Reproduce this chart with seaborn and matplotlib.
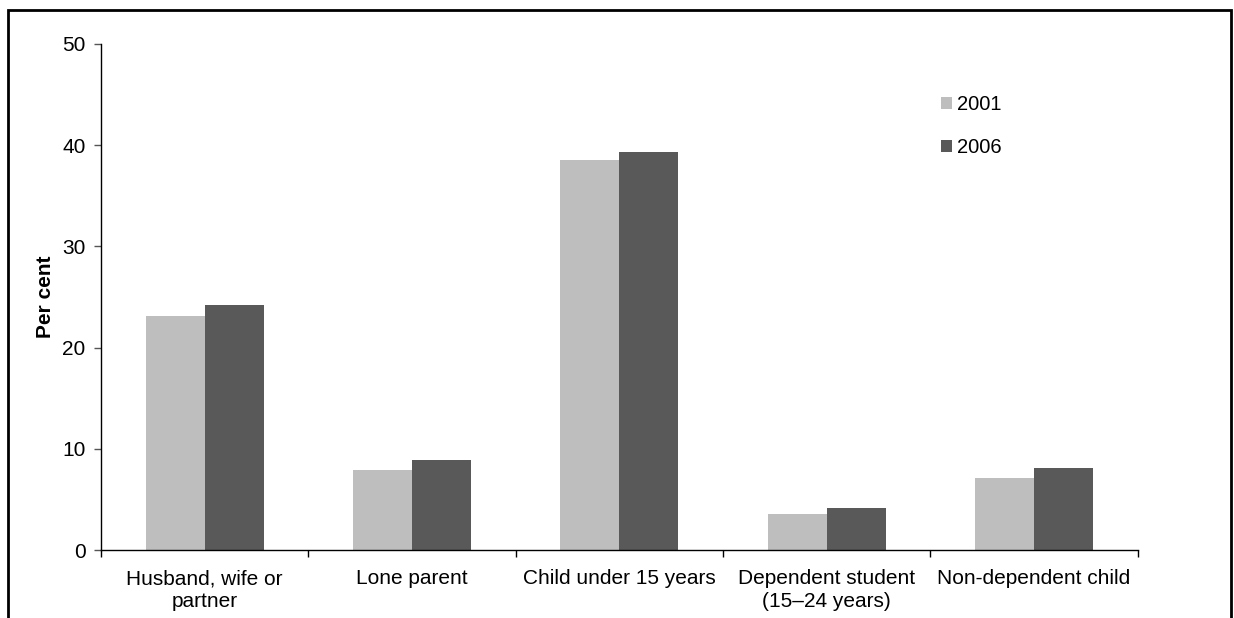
import pandas as pd
import matplotlib.pyplot as plt
import seaborn as sns
from matplotlib.patches import Rectangle

# data
categories = ['Husband, wife or\npartner', 'Lone parent', 'Child under 15 years',
              'Dependent student\n(15–24 years)', 'Non-dependent child']
years = ['2001', '2006']
values_2001 = [23.1, 7.9, 38.5, 3.6, 7.1]
values_2006 = [24.2, 8.9, 39.3, 4.2, 8.1]

df = pd.DataFrame({
    'category': categories * 2,
    'year': [years[0]] * 5 + [years[1]] * 5,
    'value': values_2001 + values_2006,
})

sns.set_style('white')
plt.rcParams['font.family'] = ['Liberation Sans', 'DejaVu Sans']
plt.rcParams['text.color'] = 'black'
plt.rcParams['xtick.color'] = 'black'
plt.rcParams['ytick.color'] = 'black'
plt.rcParams['axes.labelcolor'] = 'black'

fig = plt.figure(figsize=(12.34, 6.18), dpi=100)
ax = fig.add_axes([0.0818, 0.11, 0.8402, 0.819])

sns.barplot(data=df, x='category', y='value', hue='year', order=categories,
            hue_order=years, palette=['#bebebe', '#595959'], width=0.57,
            gap=0, saturation=1, ax=ax, linewidth=0)

ax.set_ylim(0, 50)
ax.set_xlim(-0.5, 4.5)
ax.set_yticks(range(0, 51, 10))
ax.set_xlabel('')
ax.set_ylabel('Per cent', fontsize=15, fontweight='bold', labelpad=5)

for s in ['top', 'right']:
    ax.spines[s].set_visible(False)
for s in ['left', 'bottom']:
    ax.spines[s].set_color('#000000')
    ax.spines[s].set_linewidth(1)

ax.tick_params(axis='y', which='major', direction='out', length=5, width=1,
               color='#555555', labelsize=15, pad=6, left=True)
ax.tick_params(axis='x', which='major', length=0, labelsize=15, pad=14)
ax.set_xticks([-0.5 + i for i in range(6)], minor=True)
ax.tick_params(axis='x', which='minor', direction='out', length=5, width=1,
               color='#000000', bottom=True)
for lbl in ax.get_xticklabels():
    lbl.set_linespacing(1.25)

ax.legend(loc='upper left', bbox_to_anchor=(0.793, 0.935), frameon=False,
          fontsize=14.5, handlelength=0.55, handleheight=0.55, handletextpad=0.25,
          labelspacing=1.2)

# outer frame (bottom edge cut off like the reference)
fig.patches.append(Rectangle((8 / 1234, -0.1), 1223 / 1234, 1.1 - 10 / 618,
                             transform=fig.transFigure, fill=False,
                             edgecolor='black', linewidth=2))

fig.savefig('out.png', dpi=100)
